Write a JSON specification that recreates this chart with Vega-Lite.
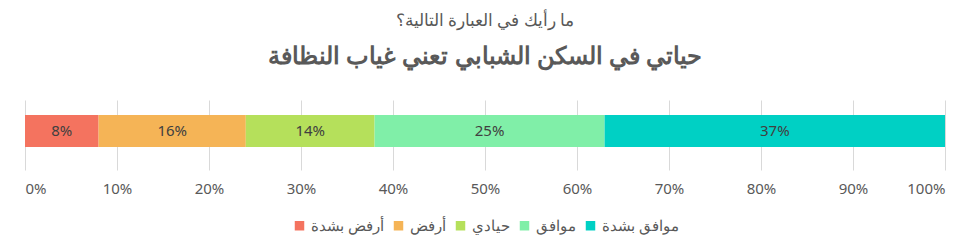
{
  "$schema": "https://vega.github.io/schema/vega-lite/v6.json",
  "width": 920,
  "height": 70,
  "autosize": "none",
  "padding": {"left": 25, "top": 100, "right": 34, "bottom": 77},
  "background": "white",
  "title": {
    "text": "ما رأيك في العبارة التالية؟",
    "subtitle": "حياتي في السكن الشبابي تعني غياب النظافة",
    "anchor": "middle",
    "frame": "group",
    "fontSize": 17,
    "fontWeight": "normal",
    "color": "#595959",
    "subtitleFontSize": 24,
    "subtitleFontWeight": "bold",
    "subtitleColor": "#595959",
    "subtitlePadding": 15,
    "offset": 30,
    "font": "Noto Sans",
    "subtitleFont": "Noto Sans"
  },
  "data": {
    "values": [
      {"answer": "أرفض بشدة", "pct": 8, "label": "8%", "order": 1},
      {"answer": "أرفض", "pct": 16, "label": "16%", "order": 2},
      {"answer": "حيادي", "pct": 14, "label": "14%", "order": 3},
      {"answer": "موافق", "pct": 25, "label": "25%", "order": 4},
      {"answer": "موافق بشدة", "pct": 37, "label": "37%", "order": 5}
    ]
  },
  "config": {
    "view": {"stroke": null},
    "font": "Noto Sans",
    "legend": {"layout": {"bottom": {"anchor": "middle"}}}
  },
  "encoding": {
    "x": {
      "field": "pct",
      "type": "quantitative",
      "stack": "zero",
      "scale": {"domain": [0, 100]},
      "axis": {
        "title": null,
        "values": [0, 10, 20, 30, 40, 50, 60, 70, 80, 90, 100],
        "labelExpr": "datum.value + '%'",
        "domain": false,
        "ticks": false,
        "grid": true,
        "gridColor": "#d9d9d9",
        "labelColor": "#595959",
        "labelFontSize": 15,
        "labelPadding": 11,
        "labelFont": "Noto Sans"
      }
    },
    "order": {"field": "order", "type": "quantitative"}
  },
  "layer": [
    {
      "mark": {"type": "bar", "size": 32, "yOffset": -4},
      "encoding": {
        "color": {
          "field": "answer",
          "type": "nominal",
          "scale": {
            "domain": ["أرفض بشدة", "أرفض", "حيادي", "موافق", "موافق بشدة"],
            "range": ["#F4735F", "#F5B456", "#B5E05B", "#80EFA8", "#00D0C4"]
          },
          "sort": null,
          "legend": {
            "title": null,
            "orient": "bottom",
            "direction": "horizontal",
            "symbolType": "square",
            "symbolSize": 90,
            "symbolStrokeWidth": 0,
            "labelFontSize": 15,
            "labelColor": "#595959",
            "labelFont": "Noto Sans",
            "columnPadding": 7,
            "offset": 22
          }
        }
      }
    },
    {
      "mark": {"type": "text", "color": "#404040", "fontSize": 15, "font": "Noto Sans", "yOffset": -4},
      "encoding": {
        "x": {"field": "pct", "type": "quantitative", "stack": "zero", "bandPosition": 0.5},
        "text": {"field": "label", "type": "nominal"}
      }
    }
  ]
}
